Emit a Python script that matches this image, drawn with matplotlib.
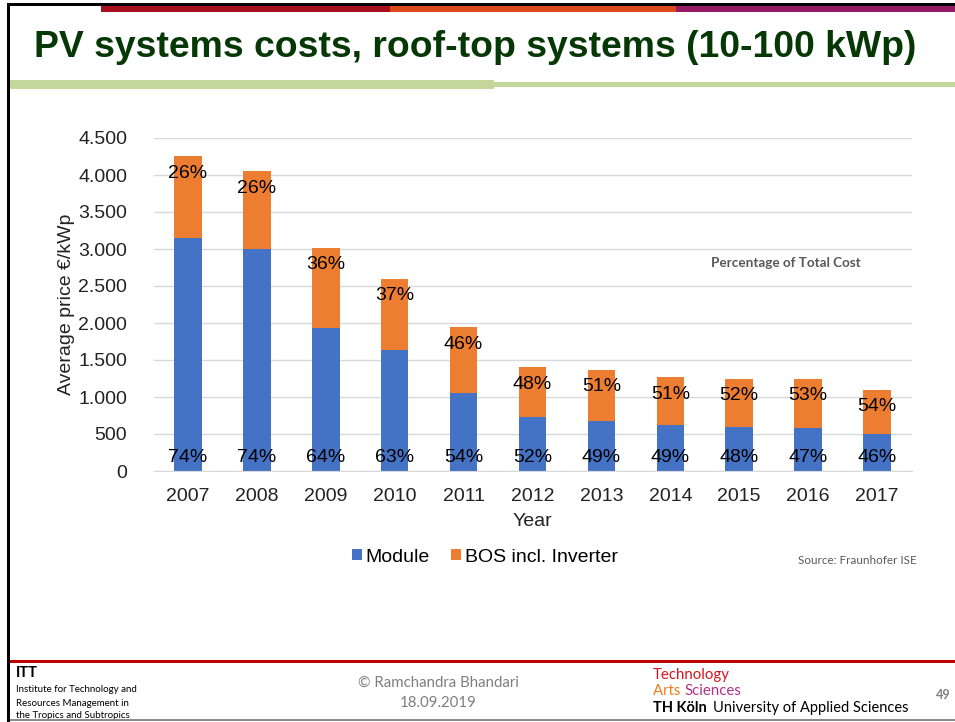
import numpy as np
import matplotlib
matplotlib.use("Agg")
import matplotlib.pyplot as plt
from matplotlib.patches import Rectangle, Patch
from matplotlib.ticker import FuncFormatter

# Données : prix moyen total (€/kWp) et part du module (%)
years = ["2007", "2008", "2009", "2010", "2011", "2012",
         "2013", "2014", "2015", "2016", "2017"]
total_price = [4250, 4050, 3020, 2600, 1940, 1400, 1370, 1270, 1250, 1250, 1100]
module_share = [74, 74, 64, 63, 54, 52, 49, 49, 48, 47, 46]
bos_share = [26, 26, 36, 37, 46, 48, 51, 51, 52, 53, 54]

series_labels = ["Module", "BOS incl. Inverter"]
colors = ["#4472C4", "#ED7D31"]

W, H = 955, 722
plt.rcParams['font.family'] = ['Liberation Sans', 'DejaVu Sans']

fig = plt.figure(figsize=(W / 100, H / 100), dpi=100)


def fx(x):
    return x / W


def fy(y):
    return 1 - y / H


def band(x0, x1, y0, y1, color):
    """Rectangle décoratif en coordonnées pixels (origine en haut à gauche)."""
    fig.add_artist(Rectangle((fx(x0), fy(y1)), fx(x1) - fx(x0), fy(y0) - fy(y1),
                             transform=fig.transFigure, facecolor=color,
                             edgecolor='none', zorder=5))


# Cadre de la diapositive
band(7, W, 3, 6, "black")
band(7, 10, 3, H, "black")
band(101, 390, 6, 12, "#A8101F")
band(390, 676, 6, 12, "#DC4A1C")
band(676, W, 6, 12, "#961A66")
band(10, 494, 80, 89, "#C4D79B")
band(494, W, 82, 87, "#C4D79B")
band(10, W, 660, 663, "#C00000")
band(10, W, 719, 721, "#8C8C8C")

fig.text(fx(34), fy(57), "PV systems costs, roof-top systems (10-100 kWp)",
         fontsize=26.9, fontweight='bold', color='#063806', va='baseline', ha='left')

# Graphique à barres empilées
ax = fig.add_axes([fx(153.5), fy(471), fx(911.5) - fx(153.5), fy(138) - fy(471)])
x = np.arange(len(years))
total = np.array(total_price, dtype=float)
module = total * np.array(module_share) / 100
bos = total - module

ax.bar(x, module, width=0.4, color=colors[0], zorder=2)
ax.bar(x, bos, width=0.4, bottom=module, color=colors[1], zorder=2)

for i in range(len(years)):
    ax.annotate(f"{module_share[i]}%", (x[i], 0), xytext=(0, 10),
                textcoords='offset points', ha='center', va='center',
                fontsize=14, color='black', zorder=3)
    ax.annotate(f"{bos_share[i]}%", (x[i], total[i]), xytext=(0, -12.5),
                textcoords='offset points', ha='center', va='center',
                fontsize=14, color='black', zorder=3)

ax.set_xlim(-0.5, len(years) - 0.5)
ax.set_ylim(0, 4500)
ax.set_yticks(np.arange(0, 4501, 500))
ax.yaxis.set_major_formatter(FuncFormatter(lambda v, p: f"{int(v):,}".replace(",", ".")))
ax.set_xticks(x)
ax.set_xticklabels(years)
ax.grid(axis='y', color='#D9D9D9', linewidth=1, zorder=0)
for side in ['top', 'right', 'left']:
    ax.spines[side].set_visible(False)
ax.spines['bottom'].set_color('#D9D9D9')
ax.tick_params(axis='y', length=0, pad=19, labelsize=14, labelcolor='#222222')
ax.tick_params(axis='x', length=0, pad=12, labelsize=14, labelcolor='#222222')

ax.set_xlabel("Year", fontsize=14, color='#222222', labelpad=6)
ax.set_ylabel("Average price €/kWp", fontsize=14, color='#222222')
ax.yaxis.set_label_coords((75 - 153.5) / 758, 0.5)

ax.text(fx(786), fy(263), "Percentage of Total Cost", transform=fig.transFigure,
        family=['Lato', 'DejaVu Sans'], fontweight='bold', fontsize=9.7,
        color='#595959', ha='center', va='center')

handles = [Patch(facecolor=c, edgecolor='none') for c in colors]
fig.legend(handles, series_labels, loc='center', bbox_to_anchor=(fx(485), fy(557)),
           ncol=2, frameon=False, fontsize=14, handlelength=0.5, handleheight=0.5,
           handletextpad=0.2, columnspacing=1.1)

fig.text(fx(917), fy(560), "Source: Fraunhofer ISE", family=['Lato', 'DejaVu Sans'],
         fontsize=8.4, color='#595959', ha='right', va='center')

# Pied de page
foot = ['Lato', 'DejaVu Sans']
fig.text(fx(16), fy(673), "ITT", family=foot, fontweight='bold', fontsize=10.5,
         color='black', va='center')
for yy, line in zip([690, 703, 716], ["Institute for Technology and",
                                     "Resources Management in",
                                     "the Tropics and Subtropics"]):
    fig.text(fx(16), fy(yy), line, family=foot, fontsize=7, color='black', va='center')

fig.text(fx(438), fy(683), "© Ramchandra Bhandari", family=foot, fontsize=10.8,
         color='#7F7F7F', ha='center', va='center')
fig.text(fx(438), fy(703), "18.09.2019", family=foot, fontsize=10.8,
         color='#7F7F7F', ha='center', va='center')

fig.text(fx(653), fy(675), "Technology", family=foot, fontsize=10.8,
         color='#D7141E', va='center')
t_arts = fig.text(fx(653), fy(691), "Arts ", family=foot, fontsize=10.8,
                  color='#F07D1E', va='center')
fig.canvas.draw()
bb = t_arts.get_window_extent()
fig.text(bb.x1 / fig.bbox.width, fy(691), "Sciences", family=foot, fontsize=10.8,
         color='#B4308C', va='center')
fig.text(fx(653), fy(708), "TH Köln", family=foot, fontweight='bold',
         fontsize=10.5, color='black', va='center')
fig.text(fx(713), fy(708), "University of Applied Sciences", family=foot,
         fontsize=10.5, color='black', va='center')
fig.text(fx(943), fy(695), "49", family=foot, fontweight='bold', fontsize=9,
         color='#7F7F7F', ha='center', va='center')

fig.savefig("out.png", dpi=100)
